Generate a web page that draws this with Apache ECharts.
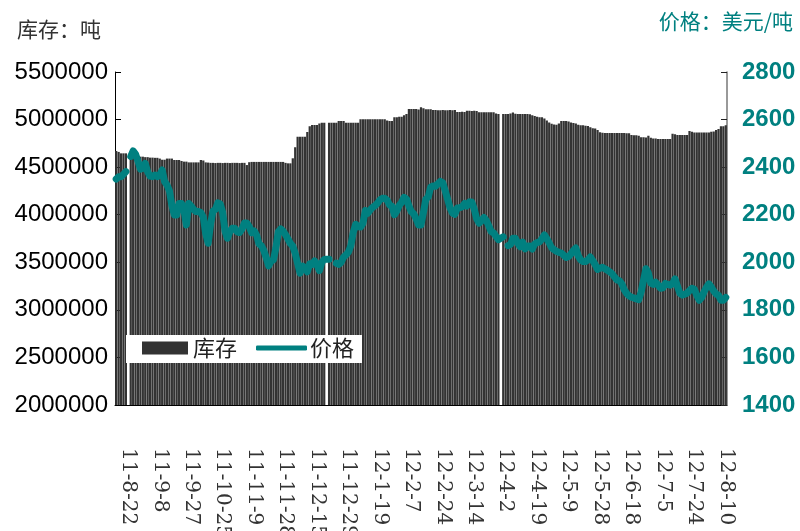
<!DOCTYPE html>
<html>
<head>
<meta charset="utf-8">
<title>库存与价格</title>
<script src="https://cdn.jsdelivr.net/npm/echarts@6/dist/echarts.min.js"></script>
<style>
  html, body { margin: 0; padding: 0; background: #fff; }
  #main { width: 800px; height: 531px; }
</style>
</head>
<body>
<div id="main"></div>
<script>
// 日期标签（每13个交易日一个）
var dateLabels = ['11-8-22', '11-9-8', '11-9-27', '11-10-25', '11-11-9', '11-11-28', '11-12-15', '11-12-29',
  '12-1-19', '12-2-7', '12-2-24', '12-3-14', '12-4-2', '12-4-19', '12-5-9', '12-5-28',
  '12-6-18', '12-7-5', '12-7-24', '12-8-10'];
var firstLabel = 5, labelStep = 13;

// 库存：吨
var stock = [
  4670000, 4660000, 4645000, 4645000, 4645000, null, 4630000, 4615000, 4615000, 4610000,
  4610000, 4610000, 4605000, 4605000, 4600000, 4600000, 4598000, 4598000, 4590000, 4578000,
  4578000, 4590000, 4590000, 4590000, 4575000, 4575000, 4575000, 4565000, 4558000, 4558000,
  4550000, 4550000, 4550000, 4550000, 4550000, 4575000, 4570000, 4550000, 4548000, 4545000,
  4545000, 4543000, 4545000, 4545000, 4543000, 4545000, 4545000, 4543000, 4545000, 4545000,
  4545000, 4543000, 4545000, 4545000, 4522000, 4552000, 4555000, 4555000, 4555000, 4555000,
  4555000, 4555000, 4555000, 4555000, 4555000, 4555000, 4555000, 4555000, 4555000, 4555000,
  4545000, 4540000, 4540000, 4593000, 4710000, 4820000, 4820000, 4820000, 4820000, 4870000,
  4930000, 4943000, 4943000, 4943000, 4960000, 4967000, 4967000, null, 4967000, 4967000,
  4967000, 4967000, 4985000, 4985000, 4985000, 4967000, 4967000, 4967000, 4967000, 4967000,
  4967000, 5003000, 5003000, 5003000, 5003000, 5003000, 5003000, 5003000, 5003000, 5003000,
  5003000, 5003000, 4990000, 4985000, 4985000, 5024000, 5024000, 5030000, 5030000, 5045000,
  5059000, 5111000, 5111000, 5111000, 5111000, 5105000, 5129000, 5120000, 5108000, 5108000,
  5108000, 5100000, 5100000, 5098000, 5098000, 5100000, 5097000, 5097000, 5100000, 5097000,
  5100000, 5080000, 5080000, 5083000, 5080000, 5093000, 5093000, 5090000, 5093000, 5090000,
  5076000, 5076000, 5076000, 5076000, 5076000, 5076000, 5076000, 5065000, 5059000, null,
  5059000, 5059000, 5059000, 5065000, 5075000, 5060000, 5059000, 5059000, 5059000, 5059000,
  5059000, 5055000, 5045000, 5037000, 5030000, 5024000, 5024000, 5010000, 4990000, 4970000,
  4955000, 4948000, 4945000, 4960000, 4985000, 4985000, 4985000, 4980000, 4970000, 4963000,
  4960000, 4945000, 4940000, 4940000, 4935000, 4932000, 4920000, 4908000, 4905000, 4890000,
  4866000, 4862000, 4858000, 4858000, 4858000, 4858000, 4858000, 4858000, 4858000, 4858000,
  4858000, 4856000, 4855000, 4838000, 4835000, 4835000, 4830000, 4814000, 4813000, 4812000,
  4830000, 4810000, 4800000, 4800000, 4797000, 4797000, 4797000, 4797000, 4797000, 4797000,
  4850000, 4845000, 4838000, 4838000, 4838000, 4838000, 4838000, 4880000, 4873000, 4865000,
  4865000, 4865000, 4865000, 4865000, 4865000, 4865000, 4872000, 4875000, 4890000, 4900000,
  4930000, 4930000, 4940000
];

// 价格：美元/吨
var price = [
  2350, 2360, 2360, 2370, 2381, null, 2445, 2468, 2455, 2425,
  2392, 2395, 2416, 2380, 2362, 2360, 2367, 2360, 2368, 2388,
  2340, 2325, 2300, 2240, 2199, 2199, 2247, 2247, 2220, 2157,
  2247, 2236, 2222, 2213, 2213, 2209, 2190, 2120, 2080, 2160,
  2215, 2222, 2250, 2245, 2210, 2130, 2101, 2130, 2143, 2143,
  2128, 2125, 2140, 2165, 2165, 2150, 2124, 2132, 2115, 2078,
  2070, 2050, 2020, 1985, 2005, 2010, 2060, 2128, 2140, 2131,
  2116, 2098, 2079, 2068, 2037, 1995, 1954, 1984, 1978, 1960,
  1994, 1991, 2006, 1990, 1965, 2000, 2012, 2013, 2013, null,
  null, 1996, 1991, 2000, 2022, 2031, 2043, 2070, 2126, 2160,
  2150, 2148, 2164, 2218, 2206, 2220, 2231, 2238, 2248, 2262,
  2269, 2269, 2261, 2241, 2235, 2200, 2215, 2239, 2252, 2273,
  2266, 2237, 2212, 2204, 2183, 2157, 2157, 2210, 2265, 2275,
  2316, 2321, 2320, 2330, 2340, 2334, 2301, 2265, 2229, 2207,
  2202, 2228, 2230, 2233, 2247, 2237, 2254, 2253, 2224, 2184,
  2165, 2174, 2188, 2176, 2154, 2129, 2124, 2109, 2095, 2101,
  2107, null, 2070, 2075, 2101, 2101, 2080, 2065, 2085, 2056,
  2068, 2068, 2056, 2077, 2083, 2086, 2099, 2115, 2099, 2081,
  2061, 2053, 2046, 2042, 2039, 2030, 2020, 2024, 2035, 2050,
  2060, 2027, 2010, 2003, 2003, 2010, 2022, 2007, 1990, 1970,
  1975, 1979, 1973, 1967, 1960, 1952, 1938, 1926, 1922, 1910,
  1885, 1869, 1859, 1853, 1850, 1846, 1843, 1875, 1925, 1973,
  1954, 1912, 1907, 1916, 1905, 1891, 1893, 1911, 1907, 1904,
  1910, 1930, 1900, 1870, 1862, 1866, 1870, 1881, 1891, 1887,
  1861, 1840, 1852, 1875, 1895, 1909, 1896, 1879, 1867, 1861,
  1840, 1840, 1852
];

// 类目：只有每隔13天的位置带日期文字
var categories = [];
for (var i = 0; i < price.length; i++) {
  var k = (i - firstLabel) / labelStep;
  categories.push(i >= firstLabel && k === Math.floor(k) && dateLabels[k] ? dateLabels[k] : '');
}

var teal = '#008080';
var cjk = '"Noto Sans CJK SC", sans-serif';
var plain = function(v) { return String(v); };

var myChart = echarts.init(document.getElementById('main'));

var option = {
  animation: false,
  backgroundColor: '#fff',
  title: [{
    text: '库存：吨',
    left: 12, top: 14,
    textStyle: { fontFamily: cjk, fontSize: 21, fontWeight: 'normal', color: '#333' }
  }, {
    text: '价格：美元/吨',
    right: 2, top: 6,
    textStyle: { fontFamily: cjk, fontSize: 21, fontWeight: 'normal', color: teal }
  }],
  // 图例的白底
  graphic: [{
    type: 'rect', z: 10,
    shape: { x: 126, y: 335, width: 236, height: 28 },
    style: { fill: '#fff' }
  }],
  legend: [{
    z: 20,
    left: 142, top: 337, padding: 0,
    itemWidth: 46, itemHeight: 13,
    textStyle: { fontFamily: cjk, fontSize: 22, color: '#222' },
    data: [{ name: '库存', icon: 'rect' }]
  }, {
    z: 20,
    left: 256, top: 337, padding: 0,
    itemWidth: 51, itemHeight: 5,
    textStyle: { fontFamily: cjk, fontSize: 22, color: '#222', padding: [0, 0, 0, -2] },
    data: [{ name: '价格', icon: 'roundRect' }]
  }],
  grid: { left: 115, right: 73, top: 72, bottom: 126, outerBoundsMode: 'none' },
  xAxis: {
    type: 'category',
    data: categories,
    boundaryGap: true,
    axisLine: { show: true, lineStyle: { color: '#000', width: 1 } },
    axisTick: { show: false },
    axisLabel: {
      interval: 0, rotate: -90, margin: 43,
      fontFamily: '"DejaVu Serif", serif', fontSize: 20, color: '#333'
    }
  },
  yAxis: [{
    type: 'value',
    min: 2000000, max: 5500000, interval: 500000,
    axisLine: { show: true, lineStyle: { color: '#000', width: 1 } },
    axisTick: { show: true, inside: true, length: 6, lineStyle: { color: '#000' } },
    axisLabel: { margin: 7, formatter: plain, fontFamily: '"Liberation Sans", Arial, sans-serif', fontSize: 24, color: '#000' },
    splitLine: { show: false }
  }, {
    type: 'value',
    min: 1400, max: 2800, interval: 200,
    axisLine: { show: true, lineStyle: { color: '#777', width: 1.5 } },
    axisTick: { show: true, inside: true, length: 6, lineStyle: { color: '#222' } },
    axisLabel: { margin: 15, formatter: plain, fontFamily: '"Liberation Sans", Arial, sans-serif', fontSize: 24, fontWeight: 'bold', color: teal },
    splitLine: { show: false }
  }],
  series: [{
    name: '库存',
    type: 'bar',
    yAxisIndex: 0,
    data: stock,
    barCategoryGap: '8%',
    itemStyle: { color: '#333333' },
    z: 2
  }, {
    name: '价格',
    type: 'line',
    yAxisIndex: 1,
    data: price,
    showSymbol: false,
    symbol: 'none',
    connectNulls: false,
    lineStyle: { color: teal, width: 7, opacity: 1, join: 'round', cap: 'round' },
    itemStyle: { color: teal },
    emphasis: { disabled: true },
    z: 5
  }]
};

myChart.setOption(option);
</script>
</body>
</html>
